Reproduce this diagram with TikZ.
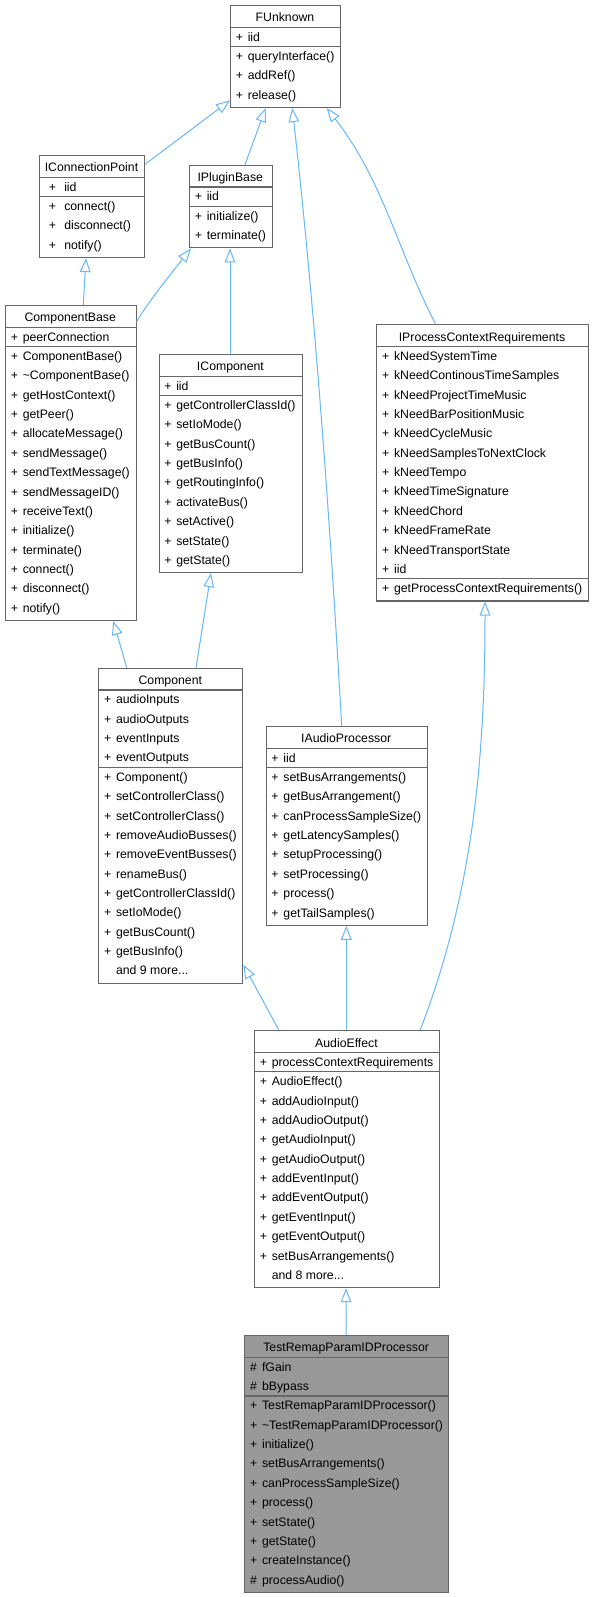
\documentclass[tikz,border=0pt]{standalone}
\usepackage{fontspec}
\setmainfont{Liberation Sans}
\usetikzlibrary{arrows.meta,calc}
\definecolor{edgeblue}{HTML}{63B8FF}
\definecolor{boxgray}{HTML}{666666}
\definecolor{leafgray}{HTML}{999999}
\tikzset{
  classbox/.style={draw=boxgray, line width=0.8pt, rectangle, inner sep=0pt, anchor=north west},
  border/.style={draw=boxgray, line width=0.8pt},
  txt/.style={inner sep=0pt, font=\fontsize{9.2}{11}\selectfont, text=black},
  inh/.style={draw=edgeblue, line width=0.75pt, -{Triangle[open, length=10.5pt, width=8pt]}}
}
\def\ufill{white}
\def\po{5.5}
\def\no{17.5}
\newcommand\umlbox[9]{%
  \pgfmathsetmacro\dA{#4+22.3}%
  \pgfmathsetmacro\dB{\dA+#5*19.35}%
  \pgfmathsetmacro\dC{\dB+#6*19.35+2.3}%
  \pgfmathsetmacro\bw{(#3-#2)*0.75}%
  \pgfmathsetmacro\bh{(\dC-#4)*0.75}%
  \node[classbox, fill=\ufill, minimum width=\bw pt, minimum height=\bh pt] (#1) at (#2,#4) {};
  \draw[border] (#2,\dA) -- (#3,\dA);
  \draw[border] (#2,\dB) -- (#3,\dB);
  \pgfmathsetmacro\tx{(#2+#3)/2}%
  \node[txt, anchor=base] (#1-t) at (\tx,#4+16.7) {#7};
  \foreach[count=\k from 0] \sy/\nm in {#8}{%
    \pgfmathsetmacro\yy{\dA+13.9+19.35*\k}%
    \node[txt, anchor=base west] (#1-as\k) at (#2+\po,\yy) {\sy};
    \node[txt, anchor=base west] (#1-a\k) at (#2+\no,\yy) {\nm};
  }
  \foreach[count=\k from 0] \sy/\nm in {#9}{%
    \pgfmathsetmacro\yy{\dB+13.9+19.35*\k}%
    \node[txt, anchor=base west] (#1-ms\k) at (#2+\po,\yy) {\sy};
    \node[txt, anchor=base west] (#1-m\k) at (#2+\no,\yy) {\nm};
  }
  \xdef\lastdB{\dB}%
}
\begin{document}
\begin{tikzpicture}[x=0.75pt,y=-0.75pt]
\fill[white] (0,0) rectangle (593,1597);
\useasboundingbox (0,0) rectangle (593,1597);

\umlbox{funk}{230}{340}{5}{1}{3}{FUnknown}{+/iid}{+/queryInterface(), +/addRef(), +/release()}

\def\po{9.5}\def\no{25}
\umlbox{icp}{39}{144}{155}{1}{3}{IConnectionPoint}{+/iid}{+/connect(), +/disconnect(), +/notify()}
\def\po{5.5}\def\no{17.5}

\umlbox{ipb}{189}{271.5}{164.7}{1}{2}{IPluginBase}{+/iid}{+/initialize(), +/terminate()}

\umlbox{cb}{5}{135.5}{305}{1}{14}{ComponentBase}{+/peerConnection}{+/ComponentBase(), +/\textasciitilde ComponentBase(), +/getHostContext(), +/getPeer(), +/allocateMessage(), +/sendMessage(), +/sendTextMessage(), +/sendMessageID(), +/receiveText(), +/initialize(), +/terminate(), +/connect(), +/disconnect(), +/notify()}

\umlbox{icomp}{158.5}{302.3}{354}{1}{9}{IComponent}{+/iid}{+/getControllerClassId(), +/setIoMode(), +/getBusCount(), +/getBusInfo(), +/getRoutingInfo(), +/activateBus(), +/setActive(), +/setState(), +/getState()}

\umlbox{ipcr}{376.3}{587.7}{324.3}{12}{1}{IProcessContextRequirements}{+/kNeedSystemTime, +/kNeedContinousTimeSamples, +/kNeedProjectTimeMusic, +/kNeedBarPositionMusic, +/kNeedCycleMusic, +/kNeedSamplesToNextClock, +/kNeedTempo, +/kNeedTimeSignature, +/kNeedChord, +/kNeedFrameRate, +/kNeedTransportState, +/iid}{+/getProcessContextRequirements()}

\umlbox{comp}{98.3}{242.3}{667.7}{4}{11}{Component}{+/audioInputs, +/audioOutputs, +/eventInputs, +/eventOutputs}{+/Component(), +/setControllerClass(), +/setControllerClass(), +/removeAudioBusses(), +/removeEventBusses(), +/renameBus(), +/getControllerClassId(), +/setIoMode(), +/getBusCount(), +/getBusInfo()}
\pgfmathsetmacro\ym{\lastdB+13.9+19.35*10}
\node[txt, anchor=base west] (comp-more) at (98.3+17.5,\ym) {and 9 more...};

\umlbox{iap}{265.7}{426.7}{726}{1}{8}{IAudioProcessor}{+/iid}{+/setBusArrangements(), +/getBusArrangement(), +/canProcessSampleSize(), +/getLatencySamples(), +/setupProcessing(), +/setProcessing(), +/process(), +/getTailSamples()}

\umlbox{ae}{254}{439}{1030.3}{1}{11}{AudioEffect}{+/processContextRequirements}{+/AudioEffect(), +/addAudioInput(), +/addAudioOutput(), +/getAudioInput(), +/getAudioOutput(), +/addEventInput(), +/addEventOutput(), +/getEventInput(), +/getEventOutput(), +/setBusArrangements()}
\pgfmathsetmacro\ym{\lastdB+13.9+19.35*10}
\node[txt, anchor=base west] (ae-more) at (254+17.5,\ym) {and 8 more...};

\def\ufill{leafgray}
\umlbox{trp}{244.3}{448}{1335}{2}{10}{TestRemapParamIDProcessor}{\#/fGain, \#/bBypass}{+/TestRemapParamIDProcessor(), +/\textasciitilde TestRemapParamIDProcessor(), +/initialize(), +/setBusArrangements(), +/canProcessSampleSize(), +/process(), +/setState(), +/getState(), +/createInstance(), \#/processAudio()}
\def\ufill{white}

% inheritance connectors
\draw[inh] ($(icp.north east)+(0,9.3)$) -- ($(funk.south west)+(0,-7.7)$);
\draw[inh] ($(ipb.north west)+(56,0)$) -- ($(funk.south west)+(35.7,0)$);
\draw[inh] ($(iap.north west)+(76,0)$) .. controls (330,520) and (315.2,313.3) .. ($(funk.south west)+(62.3,0)$);
\draw[inh] ($(ipcr.north west)+(59.4,0)$) .. controls (398.3,252.3) and (382.9,180) .. ($(funk.south west)+(96.7,0)$);
\draw[inh] ($(cb.north west)+(78.3,0)$) -- ($(icp.south west)+(47,0)$);
\draw[inh] ($(cb.north east)+(0,17)$) .. controls (148,302) and (170,275) .. ($(ipb.south west)+(2,0)$);
\draw[inh] ($(icomp.north west)+(71.5,0)$) -- ($(ipb.south west)+(41,0)$);
\draw[inh] ($(comp.north west)+(28.4,0)$) -- ($(cb.south west)+(108.3,0)$);
\draw[inh] ($(comp.north west)+(97.7,0)$) -- ($(icomp.south west)+(52.5,0)$);
\draw[inh] ($(ae.north west)+(25,0)$) -- ($(comp.south east)+(0,-19)$);
\draw[inh] ($(ae.north west)+(92.3,0)$) -- ($(iap.south west)+(80.6,0)$);
\draw[inh] ($(ae.north west)+(166,0)$) .. controls (475.8,887) and (485,743.7) .. ($(ipcr.south west)+(108.7,0)$);
\draw[inh] ($(trp.north west)+(101.7,0)$) -- ($(ae.south west)+(92,0)$);
\end{tikzpicture}
\end{document}
